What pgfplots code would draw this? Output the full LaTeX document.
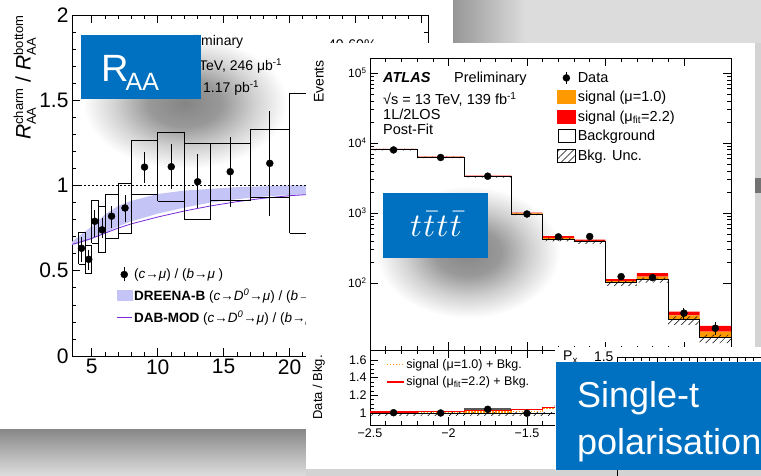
\documentclass[border=0pt]{standalone}
\usepackage{fontspec}
\setmainfont{Liberation Sans}
\usepackage{pgfplots}
\pgfplotsset{compat=1.18}
\usetikzlibrary{patterns.meta}
\definecolor{pblue}{RGB}{0,112,192}
\definecolor{bandc}{RGB}{196,196,246}
\definecolor{purp}{RGB}{120,40,215}
\definecolor{sigorange}{RGB}{255,153,0}
\definecolor{sigred}{RGB}{255,0,0}
\definecolor{bggrey}{RGB}{211,211,211}
\definecolor{tlgrey}{RGB}{220,220,220}
\definecolor{dkgrey}{RGB}{150,150,150}
\definecolor{bandtop}{RGB}{135,135,135}
\definecolor{bandbot}{RGB}{222,222,222}
\newcommand{\fs}[1]{\fontsize{#1}{#1}\selectfont}
\pgfdeclareradialshading{blob}{\pgfpoint{0bp}{0bp}}{color(0bp)=(black!48); color(9bp)=(black!40); color(17bp)=(black!18); color(25bp)=(white); color(50bp)=(white)}
\tikzset{hatch/.style={pattern={Lines[angle=45,distance=5pt,line width=0.5pt]}, pattern color=black}}
\begin{document}
\begin{tikzpicture}
\path[use as bounding box] (0pt,0pt) rectangle (761pt,476pt);
\clip (0pt,0pt) rectangle (761pt,476pt);
\fill[bggrey] (0pt,0pt) rectangle (761pt,476pt);
\fill[tlgrey] (453pt,433pt) rectangle (761pt,476pt);
\shade[left color=dkgrey, right color=tlgrey] (453pt,433pt) rectangle (525pt,476pt);
\shade[top color=bandtop, bottom color=bandbot] (0pt,0pt) rectangle (306pt,47pt);
% left panel
\fill[white] (0pt,47pt) rectangle (453pt,476pt);
\shade[shading=blob] (185pt,373pt) ellipse [x radius=102pt, y radius=66pt];

\begin{axis}[
 at={(72pt,120pt)}, anchor=south west, scale only axis, width=356pt, height=341pt,
 xmin=3.5, xmax=30.5, ymin=0, ymax=2,
 xtick={5,10,15,20,25,30}, minor x tick num=4,
 ytick={0,0.5,1,1.5,2}, minor y tick num=4,
 tick align=inside, major tick length=8pt, minor tick length=4pt,
 every tick/.style={black, line width=0.6pt},
 axis line style={line width=0.7pt},
 /pgf/number format/assume math mode=true,
 ticklabel style={font=\fs{21}},
 legend style={at={(0.124,0.262)}, anchor=north west, draw=none, fill=none, font=\fs{13.5}, row sep=4.5pt, inner sep=0pt},
 legend cell align=left,
 unbounded coords=jump,
]
\addlegendimage{legend image code/.code={\draw[line width=1pt] (7.5pt,-7pt)--(7.5pt,7pt); \fill (7.5pt,0pt) circle (3.5pt);}}
\addlegendentry{(\textit{c}→\textit{μ}) / (\textit{b}→\textit{μ} )}
\addlegendimage{legend image code/.code={\fill[bandc] (0pt,-5pt) rectangle (15pt,5pt);}}
\addlegendentry{\textbf{DREENA-B} (\textit{c}→\textit{D}\textsuperscript{\textit{0}}→\textit{μ}) / (\textit{b}→\textit{μ})}
\addlegendimage{legend image code/.code={\draw[purp, line width=0.8pt] (0pt,0pt)--(15pt,0pt);}}
\addlegendentry{\textbf{DAB-MOD} (\textit{c}→\textit{D}\textsuperscript{\textit{0}}→\textit{μ}) / (\textit{b}→\textit{μ})}

\addplot[fill=bandc, draw=none, forget plot] coordinates {
 (3.5,0.67) (4,0.70) (5,0.76) (6,0.83) (7,0.88) (8,0.91) (10,0.95) (12,0.97) (14,0.98) (16,0.99) (18,0.995) (20,1.0) (25,1.0) (30.5,1.0)
 (30.5,0.965) (25,0.955) (20,0.945) (18,0.935) (16,0.92) (14,0.9) (12,0.87) (10,0.835) (8,0.79) (7,0.76) (6,0.72) (5,0.685) (4,0.66) (3.5,0.65)} --cycle;
\addplot[purp, line width=0.8pt, forget plot] coordinates {(3.5,0.655) (4,0.665) (5,0.69) (6,0.72) (7,0.75) (8,0.775) (10,0.815) (12,0.85) (14,0.88) (16,0.905) (18,0.925) (20,0.94) (22,0.95) (25,0.96) (30.5,0.97)};
\addplot[black, line width=0.4pt, dash pattern=on 2pt off 2pt, forget plot] coordinates {(3.5,1) (30.5,1)};
\addplot[black, line width=0.9pt, forget plot] coordinates {
 (4.0,0.538) (4.5,0.538) (4.5,0.723) (4.0,0.723) (4.0,0.538) (4.0,nan)
 (4.5,0.485) (5.0,0.485) (5.0,0.651) (4.5,0.651) (4.5,0.485) (4.5,nan)
 (5.0,0.663) (5.5,0.663) (5.5,0.915) (5.0,0.915) (5.0,0.663) (5.0,nan)
 (5.5,0.606) (6.0,0.606) (6.0,0.875) (5.5,0.875) (5.5,0.606) (5.5,nan)
 (6.0,0.69) (7.0,0.69) (7.0,0.95) (6.0,0.95) (6.0,0.69) (6.0,nan)
 (7.0,0.72) (8.0,0.72) (8.0,1.01) (7.0,1.01) (7.0,0.72) (7.0,nan)
 (8.0,0.95) (10.0,0.95) (10.0,1.263) (8.0,1.263) (8.0,0.95) (8.0,nan)
 (10.0,0.909) (12.0,0.909) (12.0,1.312) (10.0,1.312) (10.0,0.909) (10.0,nan)
 (12.0,0.798) (14.0,0.798) (14.0,1.247) (12.0,1.247) (12.0,0.798) (12.0,nan)
 (14.0,0.911) (17.0,0.911) (17.0,1.247) (14.0,1.247) (14.0,0.911) (14.0,nan)
 (17.0,0.931) (20.0,0.931) (20.0,1.329) (17.0,1.329) (17.0,0.931) (17.0,nan)
 (20.0,0.72) (25.0,0.72) (25.0,1.54) (20.0,1.54) (20.0,0.72)};
\addplot[only marks, mark=*, mark size=3.5pt, black, forget plot,
 error bars/.cd, y dir=both, y explicit, error mark=none, error bar style={line width=1pt}]
 table[x=x, y=y, y error plus=ep, y error minus=em] {
x y ep em
4.22 0.632 0.068 0.079
4.77 0.567 0.053 0.063
5.23 0.79 0.066 0.09
5.78 0.74 0.067 0.05
6.5 0.82 0.06 0.07
7.52 0.868 0.076 0.08
9.0 1.108 0.09 0.092
11.03 1.11 0.133 0.132
13.03 1.022 0.161 0.156
15.5 1.081 0.201 0.205
18.5 1.13 0.309 0.309
22.5 1.13 0.35 0.35
};
\end{axis}
\node[anchor=base east, inner sep=0] at (199pt,430pt) {\fs{14}\textbf{\textit{ATLAS}} Preli};
\node[anchor=base west, inner sep=0] at (201pt,430pt) {\fs{14}minary};
\node[anchor=base east, inner sep=0] at (198pt,405pt) {\fs{14}Pb+Pb, 5.02};
\node[anchor=base west, inner sep=0] at (199pt,405pt) {\fs{14}TeV, 246  μb\textsuperscript{-1}};
\node[anchor=base east, inner sep=0] at (199pt,383pt) {\fs{14}pp,};
\node[anchor=base west, inner sep=0] at (203pt,383pt) {\fs{14}1.17 pb\textsuperscript{-1}};
\node[anchor=base west, inner sep=0] at (328pt,426pt) {\fs{14}40-60\%};
\node[rotate=90, anchor=south east, inner sep=0] at (36pt,461pt) {\fs{21}\textit{R}$^{\hbox{\fs{13}charm}}_{\hbox{\fs{13}AA}}$ / \textit{R}$^{\hbox{\fs{13}bottom}}_{\hbox{\fs{13}AA}}$};

% tttt panel
\fill[white] (306pt,7pt) rectangle (755pt,433pt);
\shade[shading=blob] (468pt,224pt) ellipse [x radius=92pt, y radius=66pt];

\begin{axis}[
 at={(370pt,126pt)}, anchor=south west, scale only axis, width=361pt, height=292pt,
 xmin=-2.5, xmax=-0.2, ymode=log, ymin=11, ymax=163700,
 xtick={-2.5,-2,-1.5,-1,-0.5}, minor x tick num=4, xticklabels={},
 ytick={100,1000,10000,100000}, yticklabels={10\textsuperscript{2},10\textsuperscript{3},10\textsuperscript{4},10\textsuperscript{5}},
 tick align=inside, major tick length=8pt, minor tick length=4pt,
 every tick/.style={black, line width=0.5pt}, axis line style={line width=0.6pt},
 yticklabel style={font=\fs{12}},
 legend style={at={(0.518,0.959)}, anchor=north west, draw=none, fill=none, font=\fs{14.5}, row sep=3.5pt, inner sep=0pt},
 legend cell align=left,
]
\addlegendimage{legend image code/.code={\draw[line width=1pt] (9pt,-6pt)--(9pt,6pt); \fill (9pt,0pt) circle (3.5pt);}}
\addlegendentry{Data}
\addlegendimage{legend image code/.code={\fill[sigorange] (0pt,-6.5pt) rectangle (18pt,6.5pt);}}
\addlegendentry{signal (μ=1.0)}
\addlegendimage{legend image code/.code={\fill[sigred] (0pt,-6.5pt) rectangle (18pt,6.5pt);}}
\addlegendentry{signal (μ\textsubscript{fit}=2.2)}
\addlegendimage{legend image code/.code={\draw[black, line width=0.7pt, fill=white] (0.5pt,-6.5pt) rectangle (18pt,6.5pt);}}
\addlegendentry{Background}
\addlegendimage{legend image code/.code={\fill[hatch] (0pt,-6.5pt) rectangle (18pt,6.5pt);}}
\addlegendentry{Bkg. Unc.}

\addplot[fill=sigred, draw=none, forget plot] coordinates {
(-2.5,8240) (-2.2,8240) (-2.2,6400) (-1.9,6400) (-1.9,3420) (-1.6,3420) (-1.6,1010) (-1.4,1010) (-1.4,465) (-1.2,465) (-1.2,415) (-1.0,415) (-1.0,113) (-0.8,113) (-0.8,138) (-0.6,138) (-0.6,39) (-0.4,39) (-0.4,24.3) (-0.2,24.3)
(-0.2,20.1) (-0.4,20.1) (-0.4,34.5) (-0.6,34.5) (-0.6,123) (-0.8,123) (-0.8,106) (-1.0,106) (-1.0,400) (-1.2,400) (-1.2,440) (-1.4,440) (-1.4,985) (-1.6,985) (-1.6,3350) (-1.9,3350) (-1.9,6320) (-2.2,6320) (-2.2,8160) (-2.5,8160)} --cycle;
\addplot[fill=sigorange, draw=none, forget plot] coordinates {
(-2.5,8160) (-2.2,8160) (-2.2,6320) (-1.9,6320) (-1.9,3350) (-1.6,3350) (-1.6,985) (-1.4,985) (-1.4,440) (-1.2,440) (-1.2,400) (-1.0,400) (-1.0,106) (-0.8,106) (-0.8,123) (-0.6,123) (-0.6,34.5) (-0.4,34.5) (-0.4,20.1) (-0.2,20.1)
(-0.2,16.6) (-0.4,16.6) (-0.4,30.3) (-0.6,30.3) (-0.6,112) (-0.8,112) (-0.8,101) (-1.0,101) (-1.0,389) (-1.2,389) (-1.2,420) (-1.4,420) (-1.4,960) (-1.6,960) (-1.6,3300) (-1.9,3300) (-1.9,6250) (-2.2,6250) (-2.2,8100) (-2.5,8100)} --cycle;
\addplot[hatch, draw=none, forget plot] coordinates {
(-2.5,8262) (-2.2,8262) (-2.2,6375) (-1.9,6375) (-1.9,3366) (-1.6,3366) (-1.6,979) (-1.4,979) (-1.4,437) (-1.2,437) (-1.2,405) (-1.0,405) (-1.0,107) (-0.8,107) (-0.8,119) (-0.6,119) (-0.6,33.3) (-0.4,33.3) (-0.4,18.3) (-0.2,18.3)
(-0.2,13.8) (-0.4,13.8) (-0.4,25.1) (-0.6,25.1) (-0.6,101) (-0.8,101) (-0.8,91) (-1.0,91) (-1.0,362) (-1.2,362) (-1.2,391) (-1.4,391) (-1.4,931) (-1.6,931) (-1.6,3201) (-1.9,3201) (-1.9,6063) (-2.2,6063) (-2.2,7857) (-2.5,7857)} --cycle;
\addplot[black, line width=1pt, const plot, forget plot] coordinates {(-2.5,8100) (-2.2,6250) (-1.9,3300) (-1.6,960) (-1.4,420) (-1.2,389) (-1.0,101) (-0.8,112) (-0.6,30.3) (-0.4,16.6) (-0.2,16.6)};
\addplot[only marks, mark=*, mark size=3.5pt, black, forget plot,
 error bars/.cd, y dir=both, y explicit, error mark=none, error bar style={line width=1pt}]
 table[x=x, y=y, y error=e] {
x y e
-2.35 7950 89
-2.05 6200 79
-1.75 3350 58
-1.5 965 31
-1.3 455 21
-1.1 460 21
-0.9 123 11
-0.7 119 11
-0.5 37 6.1
-0.3 22.5 4.7
};
\end{axis}

\begin{axis}[
 at={(370pt,51pt)}, anchor=south west, scale only axis, width=361pt, height=75pt,
 xmin=-2.5, xmax=-0.2, ymin=0.864, ymax=1.713,
 xtick={-2.5,-2,-1.5,-1,-0.5}, xticklabels={−2.5,−2,−1.5,,}, minor x tick num=4,
 ytick={1,1.2,1.4,1.6}, yticklabels={1,1.2,1.4,1.6}, minor y tick num=3,
 tick align=inside, major tick length=8pt, minor tick length=4pt,
 every tick/.style={black, line width=0.5pt}, axis line style={line width=0.6pt},
 ticklabel style={font=\fs{12.5}},
 legend style={at={(0.044,0.907)}, anchor=north west, draw=none, fill=none, font=\fs{12.5}, row sep=3pt, inner sep=0pt},
 legend cell align=left,
]
\addlegendimage{legend image code/.code={\draw[sigorange, line width=1.2pt, dash pattern=on 1.5pt off 1.5pt] (0pt,0pt)--(17pt,0pt);}}
\addlegendentry{signal (μ=1.0) + Bkg.}
\addlegendimage{legend image code/.code={\draw[sigred, line width=1.2pt] (0pt,0pt)--(17pt,0pt);}}
\addlegendentry{signal (μ\textsubscript{fit}=2.2) + Bkg.}
\addplot[hatch, draw=none, forget plot] coordinates {(-2.5,0.975) (-0.2,0.975) (-0.2,1.0) (-2.5,1.0)} --cycle;
\addplot[black, line width=0.8pt, forget plot] coordinates {(-2.5,1) (-0.2,1)};
\addplot[gray!70!black, line width=2.5pt, forget plot] coordinates {(-1.9,1.045) (-1.6,1.045)};
\addplot[sigorange, line width=1.2pt, dash pattern=on 1.5pt off 1.5pt, const plot, forget plot] coordinates {(-2.5,1.003) (-2.2,1.006) (-1.9,1.012) (-1.6,1.02) (-1.4,1.048) (-1.2,1.028) (-1.0,1.05) (-0.8,1.098) (-0.6,1.14) (-0.4,1.21) (-0.2,1.21)};
\addplot[sigred, line width=1.2pt, const plot, forget plot] coordinates {(-2.5,1.012) (-2.2,1.016) (-1.9,1.03) (-1.6,1.035) (-1.4,1.06) (-1.2,1.067) (-1.0,1.119) (-0.8,1.232) (-0.6,1.287) (-0.4,1.464) (-0.2,1.464)};
\addplot[only marks, mark=*, mark size=3.5pt, black, forget plot] coordinates {(-2.35,1.003) (-2.05,1.0) (-1.75,1.042) (-1.5,0.997) (-1.3,1.08) (-1.1,1.18) (-0.9,1.22) (-0.7,1.06) (-0.5,1.22) (-0.3,1.36)};
\end{axis}
\node[rotate=90, anchor=south east, inner sep=0] at (324pt,416pt) {\fs{14}Events};
\node[rotate=90, anchor=south east, inner sep=0] at (325pt,121pt) {\fs{13}Data / Bkg.};
\node[anchor=base west, inner sep=0] at (383pt,393pt) {\fs{14.5}\textbf{\textit{ATLAS}}};
\node[anchor=base west, inner sep=0] at (454pt,393pt) {\fs{14.5}Preliminary};
\node[anchor=base west, inner sep=0] at (383pt,371pt) {\fs{14.5}√s = 13 TeV, 139 fb\textsuperscript{-1}};
\node[anchor=base west, inner sep=0] at (383pt,356pt) {\fs{14.5}1L/2LOS};
\node[anchor=base west, inner sep=0] at (383pt,341pt) {\fs{14.5}Post-Fit};

\fill[black!55] (755pt,283pt) rectangle (761pt,298pt);

% single-t panel
\fill[white] (555pt,6pt) rectangle (761pt,129pt);
\begin{axis}[
 at={(617pt,-40pt)}, anchor=south west, scale only axis, width=200pt, height=159pt,
 xmin=0, xmax=25, ymin=-1.5, ymax=1.5,
 xtick={0,5,...,25}, minor x tick num=4, xticklabels={},
 ytick={1.5}, yticklabels={1.5},
 tick align=inside, major tick length=7pt, minor tick length=4pt,
 every tick/.style={black, line width=0.5pt}, axis line style={line width=0.6pt},
 yticklabel style={font=\fs{14}},
]
\addplot[draw=none] coordinates {(0,0)};
\end{axis}
\node[anchor=base west, inner sep=0] at (563pt,115pt) {\fs{14}P\textsubscript{x}};

% blue boxes
\fill[pblue] (81pt,377pt) rectangle (201pt,441pt);
\node[anchor=base west, inner sep=0, text=white] at (101pt,394pt) {\fs{38}R\kern-3pt\raisebox{-9pt}{\fs{25}AA}};
\fill[pblue] (383pt,218pt) rectangle (488pt,283pt);
\node[anchor=base, inner sep=0, text=white, scale=3.3] at (436pt,239pt) {$t\kern0.4pt\bar{t}\kern0.4pt t\kern0.4pt\bar{t}$};
\fill[pblue] (556pt,6pt) rectangle (765pt,114pt);
\node[anchor=base west, inner sep=0, text=white] at (577pt,68pt) {\fs{36}Single-t};
\node[anchor=base west, inner sep=0, text=white] at (577pt,21pt) {\fs{36}polarisation};
\end{tikzpicture}
\end{document}
